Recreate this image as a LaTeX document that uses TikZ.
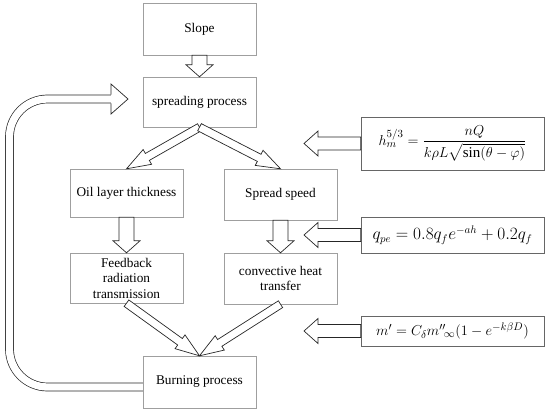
\documentclass[tikz,border=0pt]{standalone}
\usepackage{fontspec}
\setmainfont{Liberation Serif}
\usepackage{amsmath}
\usetikzlibrary{positioning, calc}

% hollow block arrow: from, to, shaft half width, head half width, head length (pt)
\newcommand{\hollowarrow}[5]{%
  \coordinate (hb) at ($(#2)!#5pt!(#1)$);
  \draw[hollow] ($(#1)!#3pt!90:(#2)$) -- ($(hb)!#3pt!90:(#2)$) -- ($(hb)!#4pt!90:(#2)$) -- (#2)
    -- ($(hb)!#4pt!-90:(#2)$) -- ($(hb)!#3pt!-90:(#2)$) -- ($(#1)!#3pt!-90:(#2)$) -- cycle;}

\begin{document}
\begin{tikzpicture}[x=1pt, y=-1pt,
  procbox/.style={draw=gray!75, minimum width=113pt, minimum height=50pt, inner sep=1pt,
    align=center, font=\fontsize{13.3}{15.5}\selectfont},
  eqbox/.style={draw=gray!80!black, minimum width=183pt, inner sep=1pt, font=\fontsize{16}{18}\selectfont},
  hollow/.style={draw=black!85, fill=white, line width=0.7pt, line join=miter}]
\useasboundingbox (0,0) rectangle (550,413);

\node[procbox, minimum height=52pt] (slope) at (199.5,29) {Slope};
\node[procbox] (spread) at (199.5,102) {spreading process};
\node[procbox, minimum height=48pt] (oil) at (126.5,193) {Oil layer thickness};
\node[procbox, minimum height=51pt] (speed) at (280.5,194.5) {Spread speed};
\node[procbox] (feedback) at (126.5,278) {Feedback\\radiation\\transmission};
\node[procbox, minimum height=51pt] (convect) at (280.5,278.5) {convective heat\\transfer};
\node[procbox, minimum height=52pt] (burning) at (199.5,382) {Burning process};

\node[eqbox, minimum height=53pt, font=\fontsize{15}{18}\selectfont] (heq) at (452.5,143.5)
  {$h_m^{5/3} = \dfrac{nQ}{k\rho L\sqrt{\sin(\theta-\varphi)}}$};
\node[eqbox, minimum height=36pt] (qeq) at (452.5,235) {$q_{pe} = 0.8q_f e^{-ah} + 0.2q_f$};
\node[eqbox, minimum height=30pt, font=\fontsize{15}{18}\selectfont] (meq) at (452.5,331)
  {$m' = C_\delta {m''}_{\!\infty}(1-e^{-k\beta D})$};

\coordinate (hend) at (304,143.5);
\coordinate (qend) at (304,235);
\coordinate (mend) at (304,331);

% process arrows
\hollowarrow{slope.south}{spread.north}{7.5}{13.5}{12}
\hollowarrow{spread.south}{oil.north}{4}{8.5}{24}
\hollowarrow{spread.south}{speed.north}{4}{8.5}{24}
\hollowarrow{oil.south}{feedback.north}{7.5}{13.5}{12}
\hollowarrow{speed.south}{convect.north}{7.5}{13.5}{12}
\hollowarrow{feedback.south}{burning.north}{4}{8.5}{24}
\hollowarrow{convect.south}{burning.north}{4}{8.5}{24}

% equation arrows
\hollowarrow{heq.west}{hend}{6.5}{12.5}{14}
\hollowarrow{qeq.west}{qend}{6.5}{12.5}{14}
\hollowarrow{meq.west}{mend}{6.5}{12.5}{14}

% feedback loop
\coordinate (loopbot) at (9.5,387);
\coordinate (looptop) at (9.5,99);
\coordinate (loophead) at (111,99);
\coordinate (looptip) at (128,99);
\draw[draw=black!85, line width=0.7pt, double=white, double distance=7.3pt, rounded corners=38pt]
  (burning.west |- loopbot) -- (loopbot) -- (looptop) -- (loophead);
\draw[hollow] ($(loophead)+(0,-4.3)$) -- ($(loophead)+(0,-15)$) -- (looptip)
  -- ($(loophead)+(0,15)$) -- ($(loophead)+(0,4.3)$);
\end{tikzpicture}
\end{document}
